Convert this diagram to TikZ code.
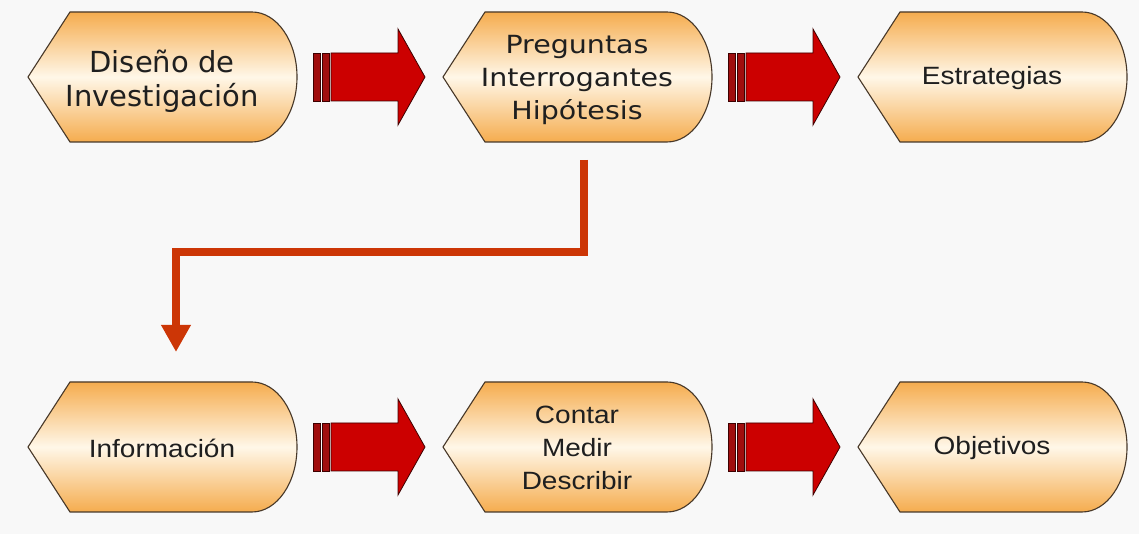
\documentclass[tikz,border=0pt]{standalone}
\usepackage{fontspec}
\usepackage{tikz}
\usetikzlibrary{arrows.meta, positioning}

\newfontfamily\verdana{DejaVu Sans}
\newfontfamily\verdanaancha[FakeStretch=1.14]{DejaVu Sans}
\newfontfamily\arial[FakeStretch=1.12]{Liberation Sans}

\definecolor{fondo}{RGB}{248,248,248}
\definecolor{naranja}{RGB}{245,172,78}
\definecolor{crema}{RGB}{255,247,232}
\definecolor{borde}{RGB}{70,55,40}
\definecolor{rojo}{RGB}{204,0,0}
\definecolor{rojooscuro}{RGB}{160,14,14}
\definecolor{guia}{RGB}{204,54,6}

\tikzset{
  caja/.style={draw=borde, line width=1.1pt, top color=naranja, bottom color=naranja, middle color=crema},
  flecha/.style={draw=black!70!rojo, line width=0.8pt, fill=rojo},
  raya/.style={draw=black!70!rojo, line width=0.8pt, fill=rojooscuro},
  texto/.style={align=center, text=black!88}
}

\begin{document}
\begin{tikzpicture}[x=1pt, y=1pt]
\useasboundingbox (0,0) rectangle (1139,534);
\fill[fondo] (0,0) rectangle (1139,534);

% Cajas de arriba
\path[caja] (28,457) -- (70,522) -- (252,522) arc[start angle=90, end angle=-90, x radius=45, y radius=65] -- (70,392) -- cycle;
\path[caja] (443,457) -- (485,522) -- (667,522) arc[start angle=90, end angle=-90, x radius=45, y radius=65] -- (485,392) -- cycle;
\path[caja] (858,457) -- (900,522) -- (1082,522) arc[start angle=90, end angle=-90, x radius=45, y radius=65] -- (900,392) -- cycle;

% Cajas de abajo
\path[caja] (28,87) -- (70,152) -- (252,152) arc[start angle=90, end angle=-90, x radius=45, y radius=65] -- (70,22) -- cycle;
\path[caja] (443,87) -- (485,152) -- (667,152) arc[start angle=90, end angle=-90, x radius=45, y radius=65] -- (485,22) -- cycle;
\path[caja] (858,87) -- (900,152) -- (1082,152) arc[start angle=90, end angle=-90, x radius=45, y radius=65] -- (900,22) -- cycle;

% Textos
\node[texto, font={\verdana\fontsize{29}{34}\selectfont}] (disenio) at (162,453) {Diseño de\\Investigación};
\node[texto, font={\verdanaancha\fontsize{25}{33}\selectfont}] (preguntas) at (577,454) {Preguntas\\Interrogantes\\Hipótesis};
\node[texto, font={\arial\fontsize{25}{33}\selectfont}] (estrategias) at (992,456) {Estrategias};
\node[texto, font={\arial\fontsize{25}{33}\selectfont}] (informacion) at (162,86) {Información};
\node[texto, font={\arial\fontsize{25}{33}\selectfont}] (contar) at (577,86) {Contar\\Medir\\Describir};
\node[texto, font={\arial\fontsize{25}{33}\selectfont}] (objetivos) at (992,86) {Objetivos};

% Flechas gruesas (arriba)
\path[raya] (313,433) rectangle (320,481);
\path[raya] (322,433) rectangle (329,481);
\path[flecha] (331,433) -- (398,433) -- (398,409) -- (425,457) -- (398,505) -- (398,481) -- (331,481) -- cycle;

\path[raya] (728,433) rectangle (735,481);
\path[raya] (737,433) rectangle (744,481);
\path[flecha] (746,433) -- (813,433) -- (813,409) -- (840,457) -- (813,505) -- (813,481) -- (746,481) -- cycle;

% Flechas gruesas (abajo)
\path[raya] (313,63) rectangle (320,111);
\path[raya] (322,63) rectangle (329,111);
\path[flecha] (331,63) -- (398,63) -- (398,39) -- (425,87) -- (398,135) -- (398,111) -- (331,111) -- cycle;

\path[raya] (728,63) rectangle (735,111);
\path[raya] (737,63) rectangle (744,111);
\path[flecha] (746,63) -- (813,63) -- (813,39) -- (840,87) -- (813,135) -- (813,111) -- (746,111) -- cycle;

% Conector de preguntas a informacion
\coordinate (salida) at (584,374);
\coordinate (llegada) at (176,182);
\draw[guia, line width=8pt, -{Triangle[width=28pt, length=27pt]}] (salida) -- ++(0,-92) -| (llegada);

\end{tikzpicture}
\end{document}
